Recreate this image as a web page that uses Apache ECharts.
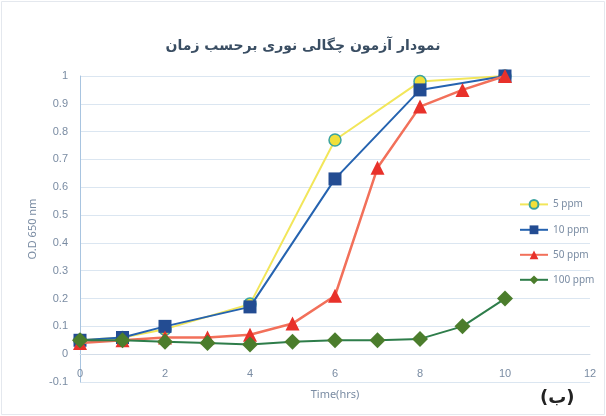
<!DOCTYPE html>
<html>
<head>
<meta charset="utf-8">
<script src="https://cdn.jsdelivr.net/npm/echarts@6/dist/echarts.min.js"></script>
<style>
  html, body { margin: 0; padding: 0; background: #fff; }
  #chart { width: 606px; height: 416px; }
</style>
</head>
<body>
<div id="chart"></div>
<script>
// 数据：时间(小时) 与 各浓度下的 O.D 650 nm
const hours5 = [0, 1, 2, 4, 6, 8, 10];
const od5 = [0.05, 0.06, 0.09, 0.18, 0.77, 0.98, 1.0];

const hours10 = [0, 1, 2, 4, 6, 8, 10];
const od10 = [0.05, 0.06, 0.10, 0.17, 0.63, 0.95, 1.0];

const hours50 = [0, 1, 2, 3, 4, 5, 6, 7, 8, 9, 10];
const od50 = [0.04, 0.05, 0.06, 0.06, 0.07, 0.11, 0.21, 0.67, 0.89, 0.95, 1.0];

const hours100 = [0, 1, 2, 3, 4, 5, 6, 7, 8, 9, 10];
const od100 = [0.05, 0.05, 0.045, 0.04, 0.035, 0.045, 0.05, 0.05, 0.055, 0.10, 0.20];

const seriesNames = ['5 ppm', '10 ppm', '50 ppm', '100 ppm'];

const pair = (xs, ys) => xs.map((x, i) => [x, ys[i]]);

const chart = echarts.init(document.getElementById('chart'));

const labelColor = '#7a8ca3';

// 网格高度，用来把 X 轴移到 y=0 处（y 轴范围 -0.1 ~ 1）
const gridTop = 76, gridBottom = 34;
const yMin = -0.1, yMax = 1;
const gridH = 416 - gridTop - gridBottom;
const xAxisShift = -gridH * (0 - yMin) / (yMax - yMin);

const option = {
  backgroundColor: '#fff',
  animation: false,
  title: {
    text: 'نمودار آزمون چگالی نوری برحسب زمان',
    left: 'center',
    top: 34,
    textStyle: {
      fontFamily: 'DejaVu Sans',
      fontSize: 14,
      fontWeight: 'bold',
      color: '#3a4e63'
    }
  },
  legend: {
    orient: 'vertical',
    left: 514,
    top: 194,
    itemGap: 15,
    itemWidth: 28,
    itemHeight: 11,
    data: seriesNames,
    textStyle: { color: labelColor, fontSize: 10, fontFamily: 'Noto Sans' }
  },
  grid: {
    left: 80,
    right: 16,
    top: gridTop,
    bottom: gridBottom,
    containLabel: false
  },
  xAxis: {
    type: 'value',
    min: 0,
    max: 12,
    interval: 2,
    offset: xAxisShift,
    name: 'Time(hrs)',
    nameLocation: 'middle',
    nameGap: 35,
    nameTextStyle: { color: labelColor, fontSize: 11, fontFamily: 'Noto Sans' },
    axisLine: { onZero: false, lineStyle: { color: '#d3dde8' } },
    axisTick: { show: false },
    axisLabel: { color: labelColor, fontSize: 11, margin: 14 },
    splitLine: { show: false }
  },
  yAxis: {
    type: 'value',
    min: yMin,
    max: yMax,
    interval: 0.1,
    name: 'O.D 650 nm',
    nameLocation: 'middle',
    nameGap: 40,
    nameTextStyle: { color: labelColor, fontSize: 11, fontFamily: 'Noto Sans' },
    axisLine: { show: true, onZero: false, lineStyle: { color: '#a8c4e0' } },
    axisTick: { show: false },
    axisLabel: {
      color: labelColor,
      fontSize: 11,
      margin: 12,
      formatter: v => String(Math.round(v * 10) / 10)
    },
    splitLine: { show: true, lineStyle: { color: '#dbe6f1', width: 1 } }
  },
  series: [
    {
      name: '5 ppm',
      type: 'line',
      data: pair(hours5, od5),
      symbol: 'circle',
      symbolSize: 12,
      lineStyle: { color: '#f2e65a', width: 2 },
      itemStyle: { color: '#f1e03a', borderColor: '#3aa3a0', borderWidth: 1.5 },
      z: 2
    },
    {
      name: '10 ppm',
      type: 'line',
      data: pair(hours10, od10),
      symbol: 'rect',
      symbolSize: 13,
      lineStyle: { color: '#2563b0', width: 2 },
      itemStyle: { color: '#234c92' },
      z: 3
    },
    {
      name: '50 ppm',
      type: 'line',
      data: pair(hours50, od50),
      symbol: 'triangle',
      symbolSize: 14,
      lineStyle: { color: '#f2705a', width: 2.5 },
      itemStyle: { color: '#e8312a' },
      z: 4
    },
    {
      name: '100 ppm',
      type: 'line',
      data: pair(hours100, od100),
      symbol: 'diamond',
      symbolSize: 16,
      lineStyle: { color: '#2e7d4a', width: 2 },
      itemStyle: { color: '#4b7d2c' },
      z: 5
    }
  ],
  graphic: [
    {
      type: 'text',
      left: 540,
      top: 389,
      style: {
        text: '(ب)',
        fontSize: 18,
        fontWeight: 'bold',
        fontFamily: 'DejaVu Sans',
        fill: '#222'
      }
    },
    {
      type: 'rect',
      shape: { x: 1.5, y: 1.5, width: 603, height: 413 },
      style: { fill: 'none', stroke: '#e4e8ee', lineWidth: 1 },
      silent: true
    }
  ]
};

chart.setOption(option);
</script>
</body>
</html>
